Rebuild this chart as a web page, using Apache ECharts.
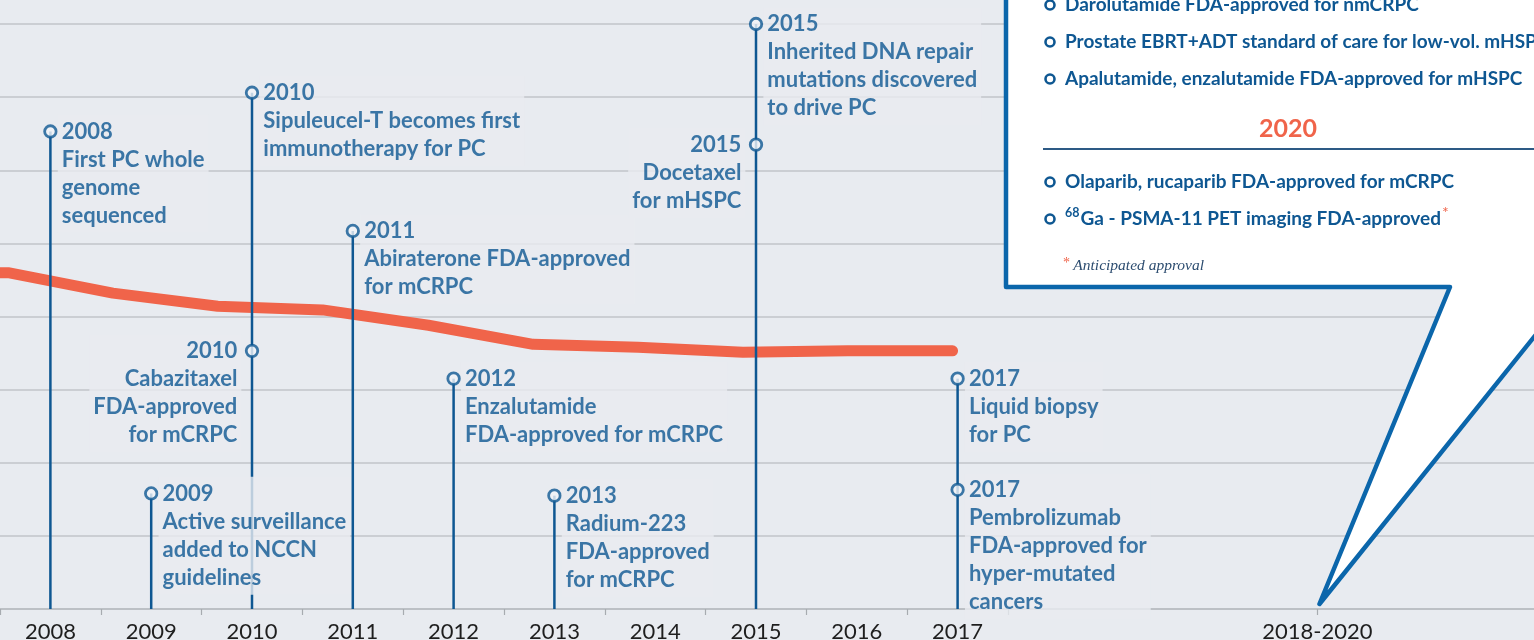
<!DOCTYPE html>
<html>
<head>
<meta charset="utf-8">
<script src="https://cdn.jsdelivr.net/npm/echarts@6.0.0/dist/echarts.min.js"></script>
<style>
  html, body { margin: 0; padding: 0; background: #e8ebf0; }
  #main { width: 1534px; height: 640px; }
</style>
</head>
<body>
<div id="main"></div>
<script>
// x axis: labels and where they sit on the year scale
var yearLabels = ['2008', '2009', '2010', '2011', '2012', '2013', '2014', '2015', '2016', '2017', '2018-2020'];
var yearLabelPos = [2008, 2009, 2010, 2011, 2012, 2013, 2014, 2015, 2016, 2017, 2020.57];
var yearTickPos = [2007.5, 2008.5, 2009.5, 2010.5, 2011.5, 2012.5, 2013.5, 2014.5, 2015.5, 2016.5, 2017.5, 2020.57];

// orange trend line
var trendX = [2007.5, 2007.58, 2008.62, 2009.66, 2010.7, 2011.75, 2012.79, 2013.83, 2014.87, 2015.91, 2016.95];
var trendY = [4.6, 4.6, 4.32, 4.14, 4.09, 3.88, 3.62, 3.58, 3.51, 3.53, 3.53];

// milestones
var evYears  = [2008, 2009, 2010, 2010, 2011, 2012, 2013, 2015, 2015, 2017, 2017];
var evLevels = [6.53, 1.58, 7.06, 3.53, 5.17, 3.15, 1.55, 8.0, 6.35, 3.15, 1.63];
var evSides  = ['right', 'right', 'right', 'left', 'right', 'right', 'right', 'right', 'left', 'right', 'right'];
var evTexts = [
  ['2008', 'First PC whole', 'genome', 'sequenced'],
  ['2009', 'Active surveillance', 'added to NCCN', 'guidelines'],
  ['2010', 'Sipuleucel-T becomes first', 'immunotherapy for PC'],
  ['2010', 'Cabazitaxel', 'FDA-approved', 'for mCRPC'],
  ['2011', 'Abiraterone FDA-approved', 'for mCRPC'],
  ['2012', 'Enzalutamide', 'FDA-approved for mCRPC'],
  ['2013', 'Radium-223', 'FDA-approved', 'for mCRPC'],
  ['2015', 'Inherited DNA repair', 'mutations discovered', 'to drive PC'],
  ['2015', 'Docetaxel', 'for mHSPC'],
  ['2017', 'Liquid biopsy', 'for PC'],
  ['2017', 'Pembrolizumab', 'FDA-approved for', 'hyper-mutated', 'cancers']
];

// 2018-2020 callout
var calloutTop = [
  'Darolutamide FDA-approved for nmCRPC',
  'Prostate EBRT+ADT standard of care for low-vol. mHSPC',
  'Apalutamide, enzalutamide FDA-approved for mHSPC'
];
var calloutYear = '2020';
var calloutBottom = ['Olaparib, rucaparib FDA-approved for mCRPC'];
var calloutNote = 'Anticipated approval';

var BG = '#e8ebf0';
var BLUE = '#0e5792';
var ORANGE = '#f0644a';
var FONT = 'Lato';

// one stem per year, up to the highest milestone
var stemData = [];
evYears.forEach(function (y, i) {
  var found = stemData.filter(function (d) { return d[0] === y; })[0];
  if (found) found[1] = Math.max(found[1], evLevels[i]);
  else stemData.push([y, evLevels[i]]);
});

var evData = evYears.map(function (y, i) {
  var right = evSides[i] === 'right';
  return {
    value: [y, evLevels[i]],
    label: {
      position: right ? [14.5, -9.5] : [-3.5, -9.5],
      align: right ? 'left' : 'right',
      formatter: evTexts[i].join('\n')
    }
  };
});

var myChart = echarts.init(document.getElementById('main'));
myChart.setOption({
  backgroundColor: BG,
  animation: false,
  grid: { left: 0, right: 0, top: 24, bottom: 31, outerBoundsMode: 'none', containLabel: false },
  xAxis: {
    type: 'value',
    min: 2007.5,
    max: 2007.5 + 1534 / 100.8,
    splitLine: { show: false },
    axisLine: { lineStyle: { color: '#b7bbc0', width: 1.5 } },
    axisTick: { customValues: yearTickPos, length: 6, lineStyle: { color: '#a7abb0', width: 1.2 } },
    axisLabel: {
      customValues: yearLabelPos,
      margin: 12,
      color: '#1e1e1e',
      fontFamily: FONT,
      fontSize: 22,
      formatter: function (v) {
        for (var i = 0; i < yearLabelPos.length; i++) {
          if (Math.abs(yearLabelPos[i] - v) < 0.01) return yearLabels[i];
        }
        return '';
      }
    }
  },
  yAxis: {
    type: 'value',
    min: 0,
    max: 8,
    interval: 1,
    axisLabel: { show: false },
    axisLine: { show: false },
    axisTick: { show: false },
    splitLine: { lineStyle: { color: '#c2c5ca', width: 1.5 } }
  },
  series: [
    {
      // trend line
      type: 'line',
      z: 2,
      symbol: 'none',
      data: trendX.map(function (x, i) { return [x, trendY[i]]; }),
      lineStyle: { color: ORANGE, width: 11, cap: 'round', join: 'round' }
    },
    {
      // stems
      type: 'custom',
      z: 3,
      data: stemData,
      renderItem: function (params, api) {
        var p0 = api.coord([api.value(0), 0]);
        var p1 = api.coord([api.value(0), api.value(1)]);
        return {
          type: 'line',
          shape: { x1: p0[0], y1: p0[1], x2: p1[0], y2: p1[1] },
          style: { stroke: BLUE, lineWidth: 2.5 }
        };
      }
    },
    {
      // milestone markers + texts
      type: 'scatter',
      z: 5,
      symbol: 'circle',
      symbolSize: 11.5,
      itemStyle: { color: '#f1f4f7', borderColor: BLUE, borderWidth: 2.8 },
      label: {
        show: true,
        verticalAlign: 'top',
        color: BLUE,
        fontFamily: FONT,
        fontWeight: 'bold',
        fontSize: 22,
        lineHeight: 28,
        backgroundColor: BG,
        padding: [3, 4, 3, 4]
      },
      data: evData
    }
  ]
});

// callout box pointing at the 2018-2020 tick
var tip = myChart.convertToPixel({ gridIndex: 0 }, [yearLabelPos[yearLabelPos.length - 1], 0]);
var tipX = tip[0] + 2, tipY = tip[1] - 5;
var slope = (tipY - 342) / (1530 - tipX);
var elems = [{
  type: 'polygon',
  z: 100,
  shape: { points: [[1006, -20], [1006, 287], [1450, 287], [tipX, tipY], [1570, tipY - slope * (1570 - tipX)], [1570, -20]] },
  style: { fill: '#fff', stroke: '#0b66ab', lineWidth: 4.5, lineJoin: 'round' }
}];

function bullet(y) {
  elems.push({
    type: 'circle', z: 101,
    shape: { cx: 1050, cy: y, r: 4.5 },
    style: { fill: '#fff', stroke: BLUE, lineWidth: 2.6 }
  });
}
function item(text, y) {
  bullet(y);
  elems.push({
    type: 'text', z: 101, x: 1065, y: y,
    style: { text: text, fill: BLUE, font: 'bold 19px ' + FONT, verticalAlign: 'middle' }
  });
}
calloutTop.forEach(function (t, i) { item(t, 5 + i * 37); });
elems.push({
  type: 'text', z: 101, x: 1288, y: 129,
  style: { text: calloutYear, fill: ORANGE, font: 'bold 25px ' + FONT, align: 'center', verticalAlign: 'middle' }
});
elems.push({
  type: 'line', z: 101,
  shape: { x1: 1043, y1: 149, x2: 1570, y2: 149 },
  style: { stroke: '#2d5a85', lineWidth: 2 }
});
calloutBottom.forEach(function (t, i) { item(t, 182 + i * 37); });
bullet(219);
elems.push({
  type: 'text', z: 101, x: 1065, y: 219,
  style: {
    text: '{sup|68}{t|Ga - PSMA-11 PET imaging FDA-approved}{ast|*}',
    verticalAlign: 'middle',
    rich: {
      sup: { fill: BLUE, fontFamily: FONT, fontWeight: 'bold', fontSize: 12.5, padding: [0, 1, 12, 0] },
      t: { fill: BLUE, fontFamily: FONT, fontWeight: 'bold', fontSize: 19 },
      ast: { fill: ORANGE, fontFamily: FONT, fontSize: 16, padding: [0, 0, 12, 1] }
    }
  }
});
elems.push({
  type: 'text', z: 101, x: 1063, y: 266,
  style: {
    text: '{ast|*} {n|' + calloutNote + '}',
    verticalAlign: 'middle',
    rich: {
      ast: { fill: ORANGE, fontFamily: 'Liberation Serif', fontSize: 14, padding: [0, 0, 6, 0] },
      n: { fill: '#2d4d70', fontFamily: 'Liberation Serif', fontStyle: 'italic', fontSize: 15.5 }
    }
  }
});
myChart.setOption({ graphic: elems });
</script>
</body>
</html>
